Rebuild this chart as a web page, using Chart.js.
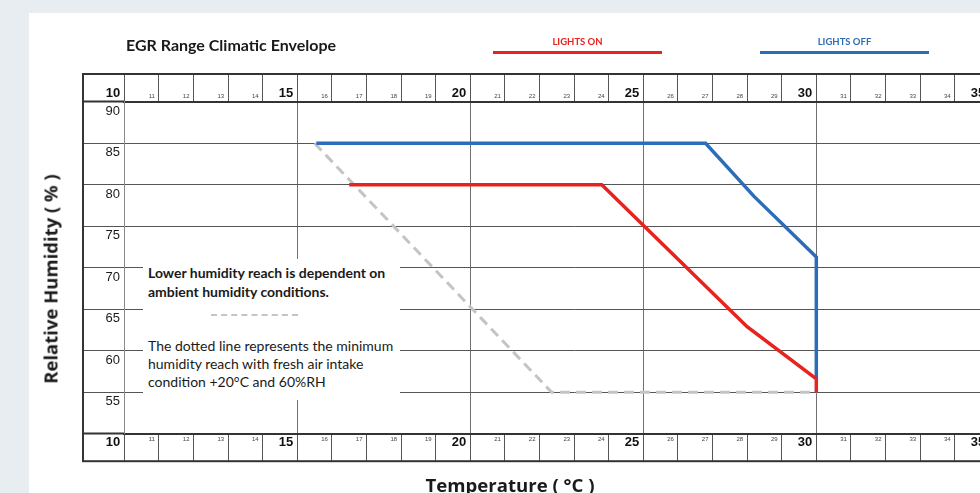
<!DOCTYPE html>
<html>
<head>
<meta charset="utf-8">
<title>EGR Range Climatic Envelope</title>
<script src="https://cdn.jsdelivr.net/npm/chart.js@4.4.1/dist/chart.umd.min.js"></script>
<style>
html, body { margin: 0; padding: 0; width: 980px; height: 493px; overflow: hidden; background: #e8edf1; }
#card { position: absolute; left: 29px; top: 13px; width: 1000px; height: 500px; background: #fff; }
#chart { position: absolute; left: 0; top: 0; z-index: 1; }
.txt { position: absolute; z-index: 2; font-family: Lato, sans-serif; color: #1a1a1a; white-space: nowrap; }
#title { left: 126px; top: 35px; font-size: 16px; font-weight: 700; line-height: 20px; }
.legend-item { position: absolute; z-index: 2; top: 36px; width: 169px; text-align: center; font-family: Lato, sans-serif; font-weight: 700; font-size: 9.5px; line-height: 12px; }
.legend-item .bar { display: block; height: 3px; margin-top: 3px; }
#legendOn { left: 493px; }
#legendOff { left: 760px; }
#yTitle { left: 50px; top: 279px; transform: translate(-50%, -50%) rotate(-90deg); font-family: "Open Sans", sans-serif; font-size: 18.5px; font-weight: 700; }
#xTitle { left: 510px; top: 484px; transform: translate(-50%, -50%); font-family: "Open Sans", sans-serif; font-size: 18.6px; font-weight: 700; }
#note { position: absolute; z-index: 2; left: 143px; top: 259px; width: 257px; height: 141px; background: #fff; font-family: Lato, sans-serif; font-size: 14px; color: #1a1a1a; }
#note .bold { position: absolute; left: 5px; top: 4px; font-weight: 700; line-height: 19px; white-space: nowrap; }
#note .dash { position: absolute; left: 68px; top: 55px; width: 87px; border-top: 2px dashed #c4c4c4; }
#note .plain { position: absolute; left: 5px; top: 78px; line-height: 18.2px; white-space: nowrap; }
</style>
</head>
<body>
<div id="card"></div>
<canvas id="chart" width="1030" height="493"></canvas>
<div id="title" class="txt">EGR Range Climatic Envelope</div>
<div id="legendOn" class="legend-item"><span class="lbl"></span><span class="bar"></span></div>
<div id="legendOff" class="legend-item"><span class="lbl"></span><span class="bar"></span></div>
<div id="yTitle" class="txt">Relative Humidity ( % )</div>
<div id="xTitle" class="txt">Temperature ( °C )</div>
<div id="note">
  <div class="bold">Lower humidity reach is dependent on<br>ambient humidity conditions.</div>
  <div class="dash"></div>
  <div class="plain">The dotted line represents the minimum<br>humidity reach with fresh air intake<br>condition +20°C and 60%RH</div>
</div>
<script>
// tick labels
const tempTicks = [10, 11, 12, 13, 14, 15, 16, 17, 18, 19, 20, 21, 22, 23, 24, 25, 26, 27, 28, 29, 30, 31, 32, 33, 34, 35];
const humidityTicks = [50, 55, 60, 65, 70, 75, 80, 85, 90];

// series (temperature °C / relative humidity %)
const lightsOnTemp = [16.5, 23.8, 28.0, 30.0, 30.0];
const lightsOnRH = [80, 80, 62.9, 56.6, 55];
const lightsOffTemp = [15.55, 26.8, 28.2, 30.0, 30.0];
const lightsOffRH = [85, 85, 78.6, 71.3, 56.6];
const minReachTemp = [15.5, 22.35, 30.0];
const minReachRH = [85, 55, 55];

const tickFamily = '"Liberation Sans", Arial, sans-serif';

function toPoints(xs, ys) {
    return xs.map((x, i) => ({x, y: ys[i]}));
}

function isMajor(ctx) {
    return ctx.tick && ctx.tick.value % 5 === 0;
}

function tempAxis(position) {
    return {
        type: 'linear',
        position,
        min: 10,
        max: 36,
        afterBuildTicks: scale => { scale.ticks = tempTicks.map(v => ({value: v})); },
        afterFit: scale => { scale.height = position === 'top' ? 27.8 : 27.5; },
        grid: {
            drawOnChartArea: position === 'bottom',
            color: ctx => isMajor(ctx) ? '#707070' : 'rgba(0,0,0,0)',
            tickColor: '#555',
            tickLength: 27.5,
            lineWidth: 1,
        },
        border: { display: true, color: '#333', width: 2 },
        ticks: {
            autoSkip: false,
            maxRotation: 0,
            align: 'end',
            labelOffset: -4,
            padding: -27,
            color: ctx => isMajor(ctx) ? '#111' : '#444',
            font: ctx => isMajor(ctx)
                ? {family: tickFamily, size: 13, weight: 'bold', lineHeight: 1.2}
                : {family: tickFamily, size: 6, lineHeight: 1.8},
            callback: v => String(v),
        },
    };
}

const framePlugin = {
    id: 'frame',
    afterDraw(chart) {
        const {ctx, scales} = chart;
        const left = scales.y.left;
        const top = scales.xTop.top;
        const right = scales.x.right;
        const bottom = scales.x.bottom;
        ctx.save();
        ctx.strokeStyle = '#333';
        ctx.lineWidth = 2;
        ctx.strokeRect(left, top, right - left, bottom - top);
        ctx.restore();
    }
};

const chart = new Chart(document.getElementById('chart'), {
    type: 'scatter',
    data: {
        datasets: [
            {
                label: 'LIGHTS ON',
                data: toPoints(lightsOnTemp, lightsOnRH),
                borderColor: '#e8231e',
                borderWidth: 3.5,
            },
            {
                label: 'LIGHTS OFF',
                data: toPoints(lightsOffTemp, lightsOffRH),
                borderColor: '#2d6db7',
                borderWidth: 3.5,
            },
            {
                label: 'Minimum humidity reach',
                data: toPoints(minReachTemp, minReachRH),
                borderColor: '#c4c4c4',
                borderWidth: 3,
                borderDash: [10, 6],
            },
        ].map(ds => Object.assign(ds, {showLine: true, pointRadius: 0, fill: false, tension: 0})),
    },
    options: {
        responsive: false,
        animation: false,
        layout: { padding: {left: 83, top: 74, right: 6.1, bottom: 31.8} },
        plugins: {
            legend: { display: false },
            tooltip: { enabled: false },
        },
        scales: {
            x: tempAxis('bottom'),
            xTop: tempAxis('top'),
            y: {
                type: 'linear',
                position: 'left',
                min: 50,
                max: 90,
                afterBuildTicks: scale => { scale.ticks = humidityTicks.map(v => ({value: v})); },
                afterFit: scale => { scale.width = 41.3; },
                grid: {
                    color: '#555',
                    lineWidth: 1,
                    tickLength: 41.3,
                    tickColor: ctx => (ctx.tick && (ctx.tick.value === 50 || ctx.tick.value === 90)) ? '#333' : '#555',
                    tickWidth: ctx => (ctx.tick && (ctx.tick.value === 50 || ctx.tick.value === 90)) ? 2 : 1,
                },
                border: { display: true, color: '#8a8a8a', width: 1 },
                ticks: {
                    autoSkip: false,
                    padding: -37,
                    labelOffset: 9.5,
                    color: '#1a1a1a',
                    font: {family: tickFamily, size: 13},
                    callback: v => v === 50 ? '' : String(v),
                },
            },
        },
    },
    plugins: [framePlugin],
});

// legend built from the first two datasets
['legendOn', 'legendOff'].forEach((id, i) => {
    const ds = chart.data.datasets[i];
    const el = document.getElementById(id);
    el.querySelector('.lbl').textContent = ds.label;
    el.style.color = ds.borderColor;
    el.querySelector('.bar').style.background = ds.borderColor;
});
</script>
</body>
</html>
